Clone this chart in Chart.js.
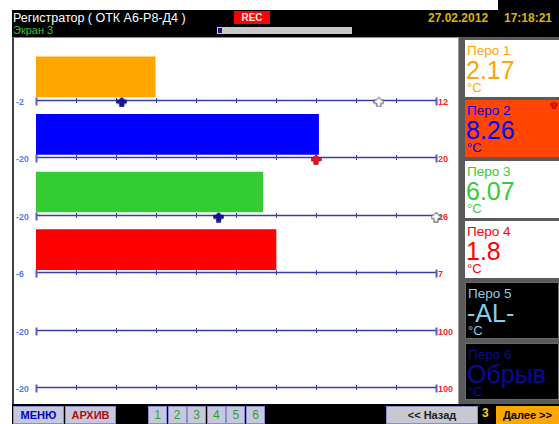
<!DOCTYPE html>
<html lang="ru">
<head>
<meta charset="utf-8">
<title>Регистратор ( ОТК А6-Р8-Д4 )</title>
<script src="https://cdn.jsdelivr.net/npm/chart.js@4.4.1/dist/chart.umd.min.js"></script>
<style>
    html, body { margin: 0; padding: 0; background: #fff; }
    body { width: 559px; height: 424px; position: relative; overflow: hidden; font-family: "Liberation Sans", Arial, sans-serif; }
    .abs { position: absolute; }
    .topbar { left: 12px; top: 10px; width: 547px; height: 28px; background: #000; }
    .topbar-right { left: 498px; top: 0; width: 61px; height: 12px; background: #000; }
    .title { left: 13px; top: 11px; color: #fff; font-size: 12.5px; white-space: nowrap; }
    .screen { left: 13px; top: 24px; color: #33c033; font-size: 11px; }
    .rec { left: 234px; top: 11px; width: 36px; height: 13px; background: #ff0000; color: #e8e8e8; font-size: 10px; font-weight: bold; text-align: center; line-height: 13px; }
    .progress { left: 217px; top: 27px; width: 135px; height: 7px; background: #c8c8c8; }
    .progress div { position: absolute; left: 1px; top: 1px; width: 4px; height: 5px; background: #14148c; }
    .date { top: 11px; color: #d8b400; font-size: 12px; font-weight: bold; }
    .main { left: 12px; top: 37px; width: 446px; height: 367px; background: #fff; border-left: 2px solid #404040; border-top: 1px solid #8a8a8a; box-sizing: border-box; }
    #chartBox { left: 14px; top: 38px; width: 444px; height: 364px; }
    .side { left: 458px; top: 37px; width: 101px; height: 367px; background: #5a5a5a; border-left: 1px solid #9a9a9a; box-sizing: border-box; }
    .pen { left: 465px; width: 94px; height: 57px; box-sizing: border-box; }
    .pen .name { position: absolute; left: 2px; top: 3px; font-size: 13.5px; white-space: nowrap; }
    .pen .val { position: absolute; left: 1px; top: 16px; font-size: 25px; white-space: nowrap; }
    .pen .unit { position: absolute; left: 2px; top: 40px; font-size: 13px; }
    .bottombar { left: 12px; top: 404px; width: 547px; height: 20px; background: #000; }
    .btn { top: 406px; height: 18px; background: #c8c8dc; border: 1px solid #8c8cd0; box-sizing: border-box; font-size: 11px; font-weight: bold; text-align: center; line-height: 17px; }
    .num { top: 406px; height: 18px; width: 19px; background: #c8c8dc; border: 1px solid #8c8cd0; box-sizing: border-box; color: #2ea02e; font-size: 12px; text-align: center; line-height: 17px; }
</style>
</head>
<body>

<div class="abs topbar"></div>
<div class="abs topbar-right"></div>
<div class="abs title">Регистратор ( ОТК А6-Р8-Д4 )</div>
<div class="abs screen">Экран 3</div>
<div class="abs rec">REC</div>
<div class="abs progress"><div></div></div>
<div class="abs date" style="left:428px">27.02.2012</div>
<div class="abs date" style="left:504px">17:18:21</div>

<div class="abs main"></div>
<div class="abs" id="chartBox"><canvas id="penChart"></canvas></div>
<div class="abs side"></div>
<div id="penPanel"></div>

<div class="abs bottombar"></div>
<div class="abs btn" style="left:13px;width:51px;color:#0000d0">МЕНЮ</div>
<div class="abs btn" style="left:65px;width:51px;color:#b01010">АРХИВ</div>
<div id="pageButtons"></div>
<div class="abs btn" style="left:386px;width:92px;color:#202020;background:#c8c8d0">&lt;&lt; Назад</div>
<div class="abs" style="left:482px;top:406px;color:#ffd700;font-size:12px;font-weight:bold">3</div>
<div class="abs btn" style="left:496px;width:63px;color:#000;background:#ffa500;border-color:#ffa500">Далее &gt;&gt;</div>

<script>
// ===== DATA =====
const pens = ['Перо 1', 'Перо 2', 'Перо 3', 'Перо 4', 'Перо 5', 'Перо 6'];
const scaleMin = [-2, -20, -20, -6, -20, -20];
const scaleMax = [12, 20, 26, 7, 100, 100];
const penValues = [2.17, 8.26, 6.07, 1.8, null, null];
const penReadouts = ['2.17', '8.26', '6.07', '1.8', '-AL-', 'Обрыв'];
const penUnit = '°C';
const lowSetpoints = [1, null, 1, null, null, null];
const highSetpoints = [10, null, 26, null, null, null];
const trippedSetpoints = [null, 8, null, null, null, null];
const pageNumbers = ['1', '2', '3', '4', '5', '6'];

// ===== STYLE =====
const barColors = ['#ffa500', '#0000ff', '#33cc33', '#ff0000', '#87ceeb', '#0a0a96'];
const boxStyles = [
    { bg: '#fff', fg: '#ffa500' },
    { bg: '#ff4500', fg: '#0000ff' },
    { bg: '#fff', fg: '#33cc33' },
    { bg: '#fff', fg: '#ff0000' },
    { bg: '#000', fg: '#87ceeb', border: '#6a6a6a' },
    { bg: '#000', fg: '#0a0a9a', border: '#6a6a6a' }
];
const AXIS_SHIFT = 0.394;   // axis line sits just below each bar
const MARKER_SHIFT = 0.437;
const AXIS_COLOR = '#3c3ca6';

// ===== SETPOINT MARKER SHAPE =====
function makeMarker(fill, stroke) {
    const c = document.createElement('canvas');
    c.width = 11;
    c.height = 11;
    const g = c.getContext('2d');
    g.beginPath();
    g.moveTo(5.5, 0.8);
    g.lineTo(8.2, 3.6);
    g.lineTo(10.2, 3.6);
    g.lineTo(10.2, 6.8);
    g.lineTo(7.6, 6.8);
    g.lineTo(7.6, 10.2);
    g.lineTo(3.4, 10.2);
    g.lineTo(3.4, 6.8);
    g.lineTo(0.8, 6.8);
    g.lineTo(0.8, 3.6);
    g.lineTo(2.8, 3.6);
    g.closePath();
    g.fillStyle = fill;
    g.fill();
    g.lineWidth = 1;
    g.strokeStyle = stroke;
    g.stroke();
    return c;
}
const lowMarker = makeMarker('#14148c', '#14148c');
const highMarker = makeMarker('#ffffff', '#505050');
const tripMarker = makeMarker('#ff1010', '#8a1010');

// ===== SIDE PANEL =====
const panel = document.getElementById('penPanel');
pens.forEach((name, i) => {
    const s = boxStyles[i];
    const box = document.createElement('div');
    box.className = 'abs pen';
    box.style.top = (39.5 + 60.6 * i) + 'px';
    box.style.background = s.bg;
    box.style.color = s.fg;
    if (s.border) box.style.border = '1px solid ' + s.border;
    box.innerHTML = `<span class="name">${name}</span><span class="val">${penReadouts[i]}</span><span class="unit">${penUnit}</span>`;
    panel.appendChild(box);
});
// little alarm flag on the tripped pen
trippedSetpoints.forEach((v, i) => {
    if (v === null) return;
    const img = document.createElement('img');
    img.src = tripMarker.toDataURL();
    img.className = 'abs';
    img.style.cssText += `left:550px;top:${40 + 60.6 * i}px;width:8px;height:8px`;
    panel.appendChild(img);
});

const pageBox = document.getElementById('pageButtons');
pageNumbers.forEach((n, i) => {
    const b = document.createElement('div');
    b.className = 'abs num';
    b.style.left = (148 + 19.6 * i) + 'px';
    b.textContent = n;
    pageBox.appendChild(b);
});

// ===== AXIS LINE, TICKS + END LABELS =====
const penAxesPlugin = {
    id: 'penAxes',
    beforeDatasetsDraw(chart) {
        const ctx = chart.ctx;
        const yScale = chart.scales.y;
        ctx.save();
        pens.forEach((p, i) => {
            const sc = chart.scales['x' + i];
            const y = Math.round(yScale.getPixelForValue(i + AXIS_SHIFT)) + 0.5;
            // axis line
            ctx.strokeStyle = AXIS_COLOR;
            ctx.lineWidth = 1.5;
            ctx.beginPath();
            ctx.moveTo(sc.getPixelForValue(sc.min), y);
            ctx.lineTo(sc.getPixelForValue(sc.max), y);
            ctx.stroke();
            // tick marks
            sc.ticks.forEach((t, k) => {
                const x = Math.round(sc.getPixelForValue(t.value)) + 0.5;
                const end = k === 0 || k === sc.ticks.length - 1;
                ctx.lineWidth = end ? 2 : 1;
                ctx.strokeStyle = end ? '#5a5ac4' : AXIS_COLOR;
                ctx.beginPath();
                ctx.moveTo(x, y - (end ? 3 : 2.5));
                ctx.lineTo(x, y + (end ? 5 : 2.5));
                ctx.stroke();
            });
            ctx.font = 'bold 9px "Liberation Sans", Arial, sans-serif';
            ctx.textBaseline = 'middle';
            ctx.textAlign = 'left';
            ctx.fillStyle = '#5078f0';
            ctx.fillText(String(sc.min), 2, y + 2);
            ctx.fillStyle = '#ff2020';
            ctx.fillText(String(sc.max), sc.right + 2, y + 2);
        });
        ctx.restore();
    }
};

// ===== BUILD CHART =====
const datasets = [];
const scales = {
    y: { type: 'linear', display: false, offset: false, reverse: true, min: -0.674, max: 5.646 }
};

pens.forEach((p, i) => {
    scales['x' + i] = {
        type: 'linear',
        display: false,
        offset: false,
        min: scaleMin[i],
        max: scaleMax[i],
        ticks: { count: 21 }
    };
    if (penValues[i] !== null) {
        datasets.push({
            type: 'bar',
            label: p,
            data: [{ x: [scaleMin[i], penValues[i]], y: i }],
            xAxisID: 'x' + i,
            yAxisID: 'y',
            backgroundColor: barColors[i],
            barThickness: 40,
            grouped: false
        });
    }
    const marks = [
        [lowSetpoints[i], lowMarker],
        [highSetpoints[i], highMarker],
        [trippedSetpoints[i], tripMarker]
    ];
    marks.forEach(([v, img]) => {
        if (v === null) return;
        datasets.push({
            type: 'scatter',
            label: p + ' уставка',
            data: [{ x: v, y: i + MARKER_SHIFT }],
            xAxisID: 'x' + i,
            yAxisID: 'y',
            pointStyle: img,
            pointRadius: 5,
            clip: false
        });
    });
});

new Chart(document.getElementById('penChart'), {
    type: 'bar',
    data: { datasets: datasets },
    options: {
        indexAxis: 'y',
        responsive: true,
        maintainAspectRatio: false,
        animation: false,
        layout: { autoPadding: false, padding: { left: 22, right: 22, top: 0, bottom: 0 } },
        plugins: { legend: { display: false }, tooltip: { enabled: false } },
        scales: scales
    },
    plugins: [penAxesPlugin]
});
</script>
</body>
</html>
